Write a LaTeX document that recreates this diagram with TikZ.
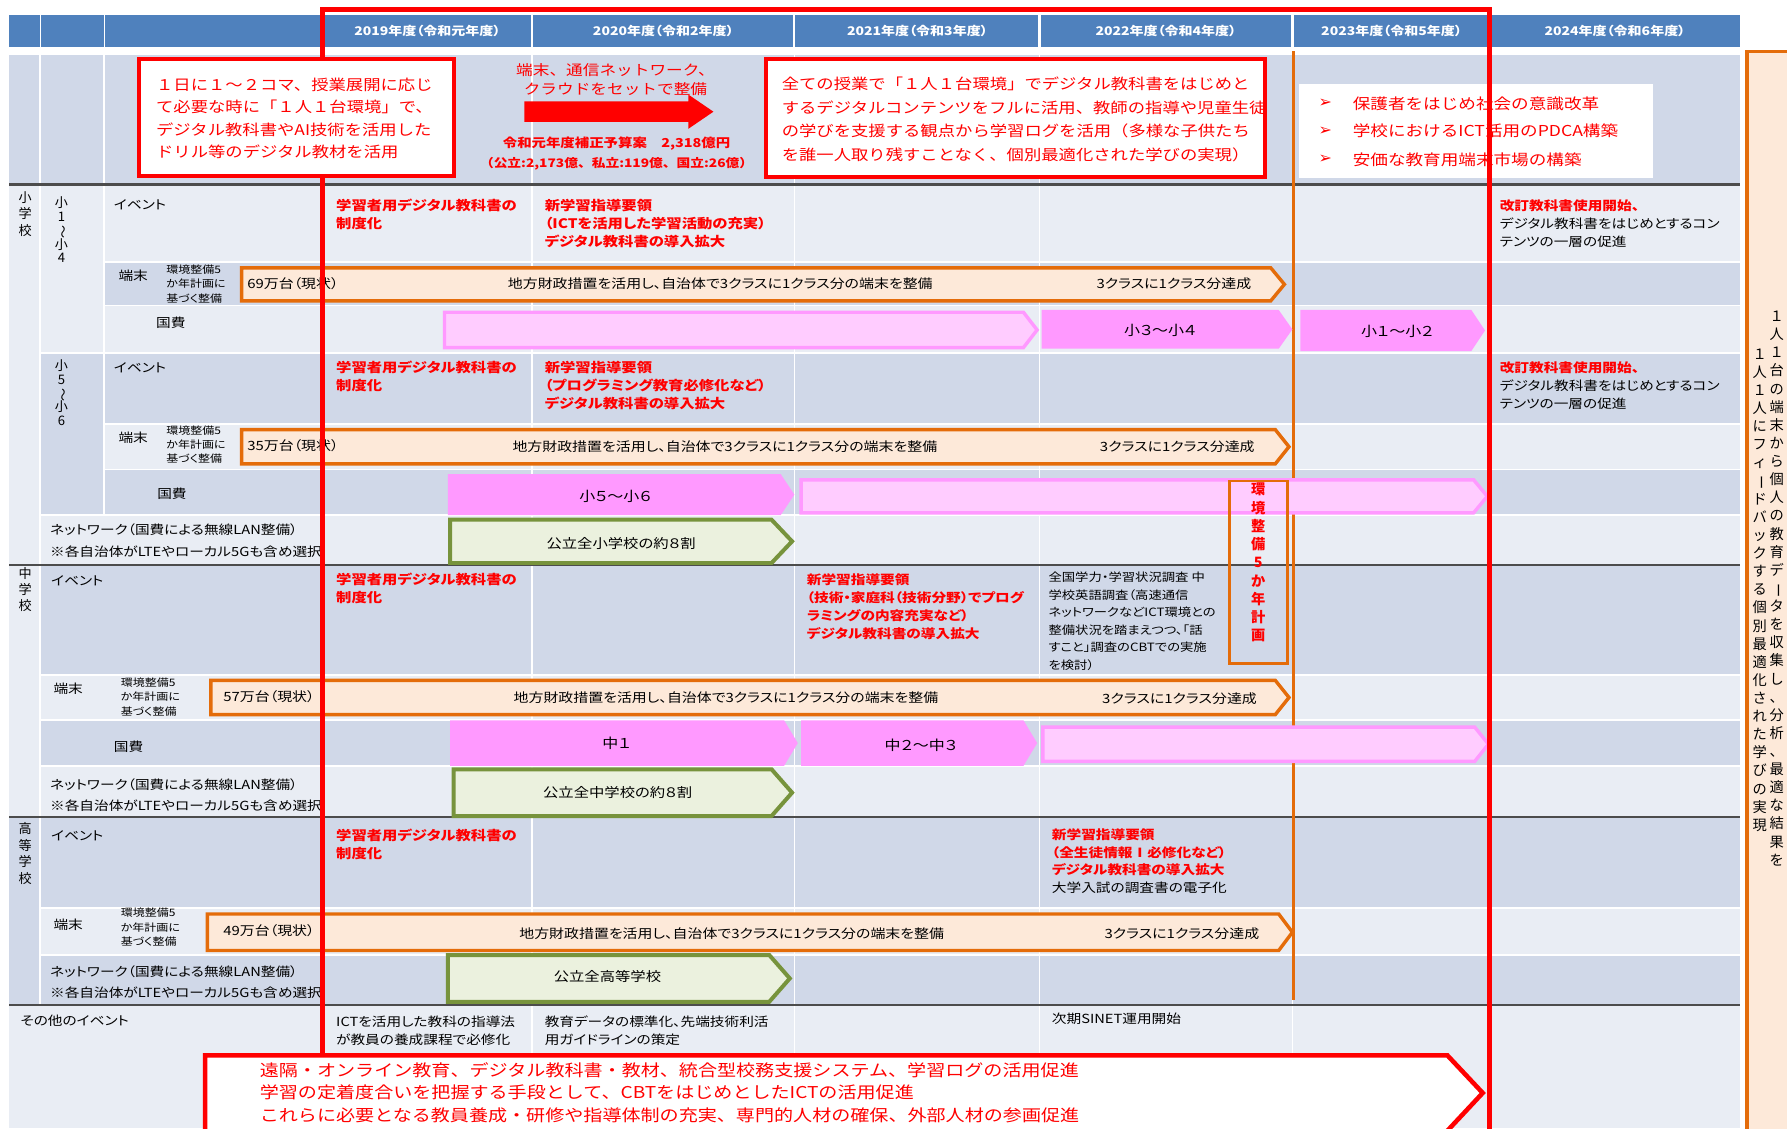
\documentclass[tikz,border=0pt]{standalone}
\usepackage{fontspec}
\usepackage{graphicx}
\setmainfont{Noto Sans CJK JP}[RawFeature=+palt,FakeStretch=1.17]
\newfontfamily\jpmono{Noto Sans CJK JP}[FakeStretch=1.17]
\newfontfamily\jptate{Noto Sans CJK JP}
\newfontfamily\dejavu{DejaVu Sans}
\definecolor{hdr}{HTML}{4F81BD}
\definecolor{rowD}{HTML}{D0D8E8}
\definecolor{rowL}{HTML}{E9EDF4}
\definecolor{jred}{HTML}{FF0000}
\definecolor{jorg}{HTML}{E46C0A}
\definecolor{peach}{HTML}{FDE9D9}
\definecolor{pinkD}{HTML}{FF99FF}
\definecolor{pinkL}{HTML}{FFCCFF}
\definecolor{grnF}{HTML}{EBF1DE}
\definecolor{grnB}{HTML}{77933C}
\def\tateloop#1{\ifx\relax#1\else\hbox to 1em{\hss#1\hss}\expandafter\tateloop\fi}
\newcommand\tate[2]{\vbox{\baselineskip=#1\lineskiplimit=-50pt\lineskip=0pt\tateloop#2\relax}}
\newcommand\tbar{\rotatebox[origin=c]{-90}{ー}}
\newcommand\twave{\rotatebox[origin=c]{-90}{〜}}
\newcommand\chev[6]{\path[#6] (#1,#2) -- ({#3-#5},#2) -- (#3,{(#2+#4)/2}) -- ({#3-#5},#4) -- (#1,#4) -- cycle;}
\begin{document}
\begin{tikzpicture}[x=1pt,y=-1pt,
  every node/.style={inner sep=0pt, outer sep=0pt},
  lbl/.style={font=\fontsize{11}{13}\selectfont, anchor=west},
  nwtxt/.style={font=\fontsize{11}{18.5}\selectfont, align=left, anchor=north west},
  sml/.style={font=\fontsize{9}{12.5}\selectfont, align=left, anchor=north west},
  evr/.style={font=\fontsize{11.5}{15.8}\selectfont\bfseries, text=jred, align=left, anchor=north west},
  evk/.style={font=\fontsize{11}{15.8}\selectfont, align=left, anchor=north west},
  hdrtxt/.style={font=\fontsize{10.5}{12}\selectfont\bfseries, text=white},
  bartxt/.style={font=\fontsize{11.2}{13}\selectfont},
  pinktxt/.style={font=\fontsize{12}{13}\selectfont},
  grntxt/.style={font=\fontsize{11.5}{13}\selectfont},
  orgbar/.style={fill=peach, draw=jorg, line width=3pt},
  pinkd/.style={fill=pinkD},
  pinkl/.style={fill=pinkL, draw=pinkD, line width=3pt},
  grnbar/.style={fill=grnF, draw=grnB, line width=3.5pt},
  grid/.style={white, line width=1.5pt},
  sepline/.style={black!70, line width=2pt},
  redbox/.style={draw=jred, fill=white, line width=3.5pt},
  boxtxt/.style={font=\jpmono\fontsize{13}{19.7}\selectfont, text=jred, align=left, anchor=north west},
  tatelbl/.style={anchor=north, font=\jptate\fontsize{11.5}{12}\selectfont},
]
\useasboundingbox (0,0) rectangle (1568,990);
\fill[white] (0,0) rectangle (1568,990);
% header
\foreach \a/\b in {8/35,36/91,92/282,284/466,468/696,698/911,913/1133,1135/1306,1308/1527}
  \fill[hdr] (\a,13) rectangle (\b,41);
\node[hdrtxt] (h19) at (375,27) {2019年度（令和元年度）};
\node[hdrtxt] (h20) at (582,27) {2020年度（令和2年度）};
\node[hdrtxt] (h21) at (805,27) {2021年度（令和3年度）};
\node[hdrtxt] (h22) at (1023,27) {2022年度（令和4年度）};
\node[hdrtxt] (h23) at (1221,27) {2023年度（令和5年度）};
\node[hdrtxt] (h24) at (1417,27) {2024年度（令和6年度）};
% backgrounds
\fill[rowD] (8,48) rectangle (1527,162);
\fill[rowL] (8,163) rectangle (35,495);
\fill[rowL] (8,497) rectangle (35,716);
\fill[rowD] (8,718) rectangle (35,881);
\fill[rowL] (36,163) rectangle (91,310);
\fill[rowD] (36,310) rectangle (91,452);
\fill[rowL] (91,163) rectangle (1527,230);
\fill[rowD] (91,230) rectangle (1527,268);
\fill[rowL] (91,268) rectangle (1527,310);
\fill[rowD] (91,310) rectangle (1527,372);
\fill[rowL] (91,372) rectangle (1527,412);
\fill[rowD] (91,412) rectangle (1527,452);
\fill[rowL] (36,452) rectangle (1527,495);
\fill[rowD] (36,497) rectangle (1527,592);
\fill[rowL] (36,592) rectangle (1527,632);
\fill[rowD] (36,632) rectangle (1527,672);
\fill[rowL] (36,672) rectangle (1527,716);
\fill[rowD] (36,718) rectangle (1527,797);
\fill[rowL] (36,797) rectangle (1527,838);
\fill[rowD] (36,838) rectangle (1527,881);
\fill[rowL] (8,883) rectangle (1527,990);
% grid
\foreach \x in {467,697,912,1134,1307} \draw[grid] (\x,48) -- (\x,990);
\draw[grid] (35,48) -- (35,881);
\draw[grid] (91,48) -- (91,452);
\draw[grid] (283,48) -- (283,990);
\foreach \y in {230,268,372,412} \draw[grid] (91,\y) -- (1527,\y);
\foreach \y in {310,452,592,632,672,797,838} \draw[grid] (36,\y) -- (1527,\y);
\foreach \y in {162,496,717,882} \draw[sepline] (8,\y) -- (1527,\y);
% right box
\draw[fill=peach, draw=jorg, line width=3pt] (1533,45) rectangle (1590,1010);
\node[anchor=north, font=\jptate\fontsize{12.5}{14}\selectfont] (rt1) at (1559,273) {\tate{15.9pt}{１人１台の端末から個人の教育デ\tbar タを収集し、分析、最適な結果を}};
\node[anchor=north, font=\jptate\fontsize{12.5}{14}\selectfont] (rt2) at (1544,306) {\tate{15.9pt}{１人１人にフィ\tbar ドバックする個別最適化された学びの実現}};
% top row (middle and right)
\node[font=\jpmono\fontsize{12.5}{16.5}\selectfont, text=jred, align=center] (mid) at (540,70) {端末、通信ネットワーク、\\クラウドをセットで整備};
\fill[jred] (460,89) -- (604,89) -- (604,83) -- (626,98) -- (604,113) -- (604,107) -- (460,107) -- cycle;
\node[font=\jpmono\fontsize{10.8}{12}\selectfont\bfseries, text=jred] (bud1) at (541,126) {令和元年度補正予算案　2,318億円};
\node[font=\jpmono\fontsize{10.3}{12}\selectfont\bfseries, text=jred] (bud2) at (541,144) {（公立:2,173億、私立:119億、国立:26億）};
\node[redbox, minimum width=438pt, minimum height=103pt] (box2) at (891,103.5) {};
\node[boxtxt, font=\jpmono\fontsize{13}{20.7}\selectfont] (box2t) at (686,67.5) {全ての授業で「１人１台環境」でデジタル教科書をはじめと\\するデジタルコンテンツをフルに活用、教師の指導や児童生徒\\の学びを支援する観点から学習ログを活用（多様な子供たち\\を誰一人取り残すことなく、個別最適化された学びの実現）};
\node[fill=white, minimum width=310pt, minimum height=82pt] (wbox) at (1295,115) {};
\foreach \y/\t [count=\i] in {91/保護者をはじめ社会の意識改革,115/学校におけるICT活用のPDCA構築,140/安価な教育用端末市場の構築}{
  \node[anchor=west, text=jred, font=\dejavu\fontsize{14}{14}\selectfont\bfseries] (bul\i) at (1157,\y) {➢};
  \node[anchor=west, text=jred, font=\jpmono\fontsize{13.2}{14}\selectfont] (wt\i) at (1187,\y) {\t};
}
% left labels
\node[tatelbl] (lsho) at (22,168) {\tate{14.5pt}{小学校}};
\node[tatelbl] (ls14) at (54,173) {\tate{12pt}{小1\twave 小4}};
\node[tatelbl] (ls56) at (54,316) {\tate{12pt}{小5\twave 小6}};
\node[tatelbl] (lchu) at (22,498) {\tate{14pt}{中学校}};
\node[tatelbl] (lko) at (22,722) {\tate{14.5pt}{高等学校}};
\node[lbl] (ev1) at (100,180) {イベント};
\node[lbl] (ev2) at (100,323) {イベント};
\node[lbl] (ev3) at (45,510) {イベント};
\node[lbl] (ev4) at (45,733) {イベント};
\node[lbl] (tm1) at (104,242) {端末};
\node[lbl] (tm2) at (104,384) {端末};
\node[lbl] (tm3) at (47,604) {端末};
\node[lbl] (tm4) at (47,811) {端末};
\node[sml] (kk1) at (146,232.5) {環境整備5\\か年計画に\\基づく整備};
\node[sml] (kk2) at (146,373.5) {環境整備5\\か年計画に\\基づく整備};
\node[sml] (kk3) at (106,595) {環境整備5\\か年計画に\\基づく整備};
\node[sml] (kk4) at (106,797) {環境整備5\\か年計画に\\基づく整備};
\node[lbl] (kh1) at (137,283) {国費};
\node[lbl] (kh2) at (138,433) {国費};
\node[lbl] (kh3) at (100,655) {国費};
\node[nwtxt] (nw1) at (44,460) {ネットワーク（国費による無線LAN整備）\\※各自治体がLTEやローカル5Gも含め選択};
\node[nwtxt] (nw2) at (44,683) {ネットワーク（国費による無線LAN整備）\\※各自治体がLTEやローカル5Gも含め選択};
\node[nwtxt] (nw3) at (44,847) {ネットワーク（国費による無線LAN整備）\\※各自治体がLTEやローカル5Gも含め選択};
\node[lbl] (oth) at (18,896) {その他のイベント};
% events
\node[evr] (e1a) at (295,175) {学習者用デジタル教科書の\\制度化};
\node[evr] (e2a) at (295,317) {学習者用デジタル教科書の\\制度化};
\node[evr] (e3a) at (295,503) {学習者用デジタル教科書の\\制度化};
\node[evr] (e4a) at (295,727) {学習者用デジタル教科書の\\制度化};
\node[evr] (e1b) at (478,175) {新学習指導要領\\（ICTを活用した学習活動の充実）\\デジタル教科書の導入拡大};
\node[evr] (e2b) at (478,317) {新学習指導要領\\（プログラミング教育必修化など）\\デジタル教科書の導入拡大};
\node[evr, font=\fontsize{11}{16}\selectfont\bfseries] (e3b) at (708,503) {新学習指導要領\\（技術・家庭科（技術分野）でプログ\\ラミングの内容充実など）\\デジタル教科書の導入拡大};
\node[evk, font=\fontsize{10}{15.4}\selectfont] (e3c) at (920,502) {全国学力・学習状況調査 中\\学校英語調査（高速通信\\ネットワークなどICT環境との\\整備状況を踏まえつつ、「話\\すこと」調査のCBTでの実施\\を検討）};
\node[evr, font=\fontsize{11}{15.5}\selectfont\bfseries] (e4b) at (923,727) {新学習指導要領\\（全生徒情報Ⅰ必修化など）\\デジタル教科書の導入拡大\\{\color{black}\mdseries 大学入試の調査書の電子化}};
\node[evk] (e1c) at (1316,175) {{\color{jred}\bfseries 改訂教科書使用開始、}\\デジタル教科書をはじめとするコン\\テンツの一層の促進};
\node[evk] (e2c) at (1316,317) {{\color{jred}\bfseries 改訂教科書使用開始、}\\デジタル教科書をはじめとするコン\\テンツの一層の促進};
\node[evk] (o1) at (295,891) {ICTを活用した教科の指導法\\が教員の養成課程で必修化};
\node[evk] (o2) at (478,891) {教育データの標準化、先端技術利活\\用ガイドラインの策定};
\node[evk] (o3) at (923,889) {次期SINET運用開始};
% orange vertical line
\draw[jorg, line width=3pt] (1135,45) -- (1135,877);
% orange bars
\chev{212}{235}{1127}{264}{12}{orgbar}
\chev{212}{377}{1131}{407}{12}{orgbar}
\chev{185}{597}{1131}{627}{12}{orgbar}
\chev{182}{802}{1134}{834}{12}{orgbar}
\node[bartxt, anchor=west] (t1a) at (217,249) {69万台（現状）};
\node[bartxt] (t1b) at (632,249) {地方財政措置を活用し、自治体で3クラスに1クラス分の端末を整備};
\node[bartxt] (t1c) at (1030,249) {3クラスに1クラス分達成};
\node[bartxt, anchor=west] (t2a) at (217,391) {35万台（現状）};
\node[bartxt] (t2b) at (636,392) {地方財政措置を活用し、自治体で3クラスに1クラス分の端末を整備};
\node[bartxt] (t2c) at (1033,392) {3クラスに1クラス分達成};
\node[bartxt, anchor=west] (t3a) at (196,611) {57万台（現状）};
\node[bartxt] (t3b) at (637,612) {地方財政措置を活用し、自治体で3クラスに1クラス分の端末を整備};
\node[bartxt] (t3c) at (1035,613) {3クラスに1クラス分達成};
\node[bartxt, anchor=west] (t4a) at (196,817) {49万台（現状）};
\node[bartxt] (t4b) at (642,819) {地方財政措置を活用し、自治体で3クラスに1クラス分の端末を整備};
\node[bartxt] (t4c) at (1037,819) {3クラスに1クラス分達成};
% pink bars
\chev{390}{274}{910}{305}{12}{pinkl}
\chev{914}{272}{1134}{306}{12}{pinkd}
\chev{1141}{272}{1303}{308}{12}{pinkd}
\chev{393}{416}{697}{452}{12}{pinkd}
\chev{703}{421}{1305}{450}{12}{pinkl}
\chev{395}{632}{700}{672}{12}{pinkd}
\chev{703}{632}{910}{672}{12}{pinkd}
\chev{915}{638}{1306}{668}{12}{pinkl}
\node[pinktxt] (p2) at (1018,290) {小３〜小４};
\node[pinktxt] (p3) at (1226,291) {小１〜小２};
\node[pinktxt] (p4) at (540,436) {小５〜小６};
\node[pinktxt] (p6) at (541,652) {中１};
\node[pinktxt] (p7) at (808,654) {中２〜中３};
% green bars
\chev{395}{456}{695}{494}{18}{grnbar}
\chev{398}{675}{695}{716}{18}{grnbar}
\chev{393}{838}{693}{879}{18}{grnbar}
\node[grntxt] (g1) at (545,477) {公立全小学校の約８割};
\node[grntxt] (g2) at (542,695) {公立全中学校の約８割};
\node[grntxt] (g3) at (533,857) {公立全高等学校};
% 5-year plan box
\draw[jorg, line width=2.5pt] (1079,422) rectangle (1130,582);
\node[anchor=north, text=jred, font=\jptate\fontsize{12.5}{13}\selectfont\bfseries] (plan) at (1104,424) {\tate{16pt}{環境整備5か年計画}};
% red frame
\draw[jred, line width=4.5pt] (283,926) -- (283,8) -- (1307,8) -- (1307,1000);
\draw[jred, fill=white, line width=4pt] (180,1005) -- (180,926) -- (1270,926) -- (1301,959) -- (1258,1005);
\node[font=\jpmono\fontsize{14.3}{20}\selectfont, text=jred, align=left, anchor=north west] (btxt) at (228,932) {遠隔・オンライン教育、デジタル教科書・教材、統合型校務支援システム、学習ログの活用促進\\学習の定着度合いを把握する手段として、CBTをはじめとしたICTの活用促進\\これらに必要となる教員養成・研修や指導体制の充実、専門的人材の確保、外部人材の参画促進};
% top-left box over the frame
\node[redbox, minimum width=276pt, minimum height=102pt] (box1) at (260,103) {};
\node[boxtxt] (box1t) at (137,68.5) {１日に１〜２コマ、授業展開に応じ\\て必要な時に「１人１台環境」で、\\デジタル教科書やAI技術を活用した\\ドリル等のデジタル教材を活用};
\end{tikzpicture}
\end{document}
